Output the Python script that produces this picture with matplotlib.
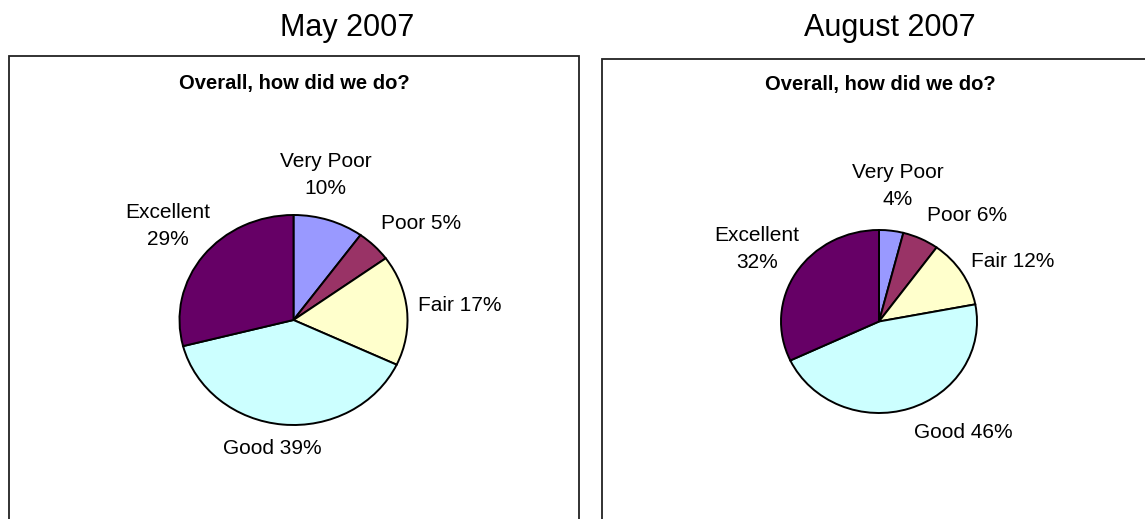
import matplotlib.pyplot as plt
from matplotlib.patches import Rectangle

categories = ['Very Poor', 'Poor', 'Fair', 'Good', 'Excellent']
may_values = [10, 5, 17, 39, 29]
aug_values = [4, 6, 12, 46, 32]
panel_titles = ['May 2007', 'August 2007']
chart_title = 'Overall, how did we do?'

colors = ['#9999FF', '#993366', '#FFFFCC', '#CCFFFF', '#660066']
two_line = [True, False, False, False, True]

# label centres in pie-radius units (x, y), per panel
may_label_pos = [(0.28, 1.38), (1.12, 0.92), (1.46, 0.14), (-0.19, -1.22), (-1.105, 0.895)]
aug_label_pos = [(0.19, 1.48), (0.895, 1.156), (1.367, 0.661), (0.857, -1.214), (-1.245, 0.79)]

W, H = 1145, 519
plt.rcParams['font.family'] = ['Liberation Sans', 'DejaVu Sans']


def px_axes(fig, cx, cy, rx, ry):
    """Axes covering the pie's bounding box, given in pixel units (y from top)."""
    return fig.add_axes([(cx - rx) / W, (H - cy - ry) / H, 2 * rx / W, 2 * ry / H])


def draw_pie(ax, values, label_pos):
    ax.pie(values, colors=colors, startangle=90, counterclock=False,
           radius=1, wedgeprops=dict(edgecolor='black', linewidth=1.4))
    ax.set_aspect('auto')
    ax.set_xlim(-1, 1)
    ax.set_ylim(-1, 1)
    ax.axis('off')
    for cat, v, wrap, (x, y) in zip(categories, values, two_line, label_pos):
        sep = '\n' if wrap else ' '
        ax.text(x, y, f'{cat}{sep}{v}%', ha='center', va='center',
                fontsize=15, linespacing=1.55, clip_on=False)


fig = plt.figure(figsize=(W / 100, H / 100), dpi=100)

# panel frames
fig.patches.append(Rectangle((9 / W, -0.05), (579 - 9) / W, 1.05 - 55.5 / H,
                             transform=fig.transFigure, fill=False,
                             edgecolor='#222222', linewidth=1.3))
fig.patches.append(Rectangle((601.5 / W, -0.05), 0.6, 1.05 - 58.7 / H,
                             transform=fig.transFigure, fill=False,
                             edgecolor='#222222', linewidth=1.3))

fig.text(347 / W, 1 - 28 / H, panel_titles[0], ha='center', va='center', fontsize=22)
fig.text(890 / W, 1 - 28 / H, panel_titles[1], ha='center', va='center', fontsize=22)
fig.text(294 / W, 1 - 83 / H, chart_title, ha='center', va='center',
         fontsize=14.5, fontweight='bold')
fig.text(880 / W, 1 - 85 / H, chart_title, ha='center', va='center',
         fontsize=14.5, fontweight='bold')

ax1 = px_axes(fig, 293.5, 320, 114, 105)
draw_pie(ax1, may_values, may_label_pos)

ax2 = px_axes(fig, 879, 321.5, 98, 91.5)
draw_pie(ax2, aug_values, aug_label_pos)

fig.savefig('out.png', dpi=100)
plt.close(fig)
